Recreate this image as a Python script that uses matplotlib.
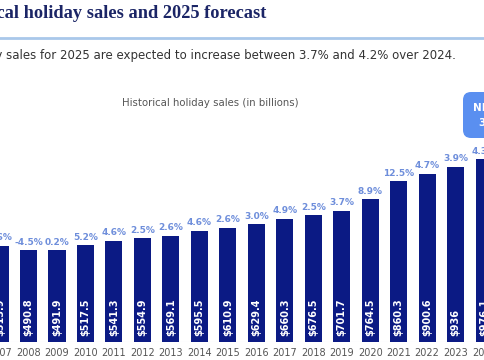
import matplotlib.pyplot as plt
from matplotlib.patches import FancyBboxPatch

# holiday sales, billions of dollars
years = [str(y) for y in range(2007, 2025)]
sales = [513.9, 490.8, 491.9, 517.5, 541.3, 554.9, 569.1, 595.5, 610.9,
         629.4, 660.3, 676.5, 701.7, 764.5, 860.3, 900.6, 936, 976.1]
sales_labels = ['$513.9', '$490.8', '$491.9', '$517.5', '$541.3', '$554.9', '$569.1',
                '$595.5', '$610.9', '$629.4', '$660.3', '$676.5', '$701.7', '$764.5',
                '$860.3', '$900.6', '$936', '$976.1']
growth = ['3.6%', '-4.5%', '0.2%', '5.2%', '4.6%', '2.5%', '2.6%', '4.6%', '2.6%',
          '3.0%', '4.9%', '2.5%', '3.7%', '8.9%', '12.5%', '4.7%', '3.9%', '4.3%']

title = 'Historical holiday sales and 2025 forecast'
subtitle = 'Holiday sales for 2025 are expected to increase between 3.7% and 4.2% over 2024.'
chart_label = 'Historical holiday sales (in billions)'

navy = '#0b1a84'
pct_blue = '#6e8edb'

fig = plt.figure(figsize=(4.85, 3.6), dpi=100)
fig.patch.set_facecolor('white')

# header
fig.text(266 / 485, 1 - 13 / 360, title, ha='right', va='center',
         family='Liberation Serif', weight='bold', fontsize=13.2, color='#1b2566')
fig.add_artist(plt.Line2D([0, 1], [1 - 38 / 360, 1 - 38 / 360], transform=fig.transFigure,
                          color='#a9c8ea', lw=2))
fig.text(456 / 485, 1 - 55 / 360, subtitle, ha='right', va='center',
         fontsize=8.5, color='#333333')

# bars
ax = fig.add_axes([0, 18 / 360, 1, (342 - 80) / 360])
x = list(range(len(years)))
ax.bar(x, sales, width=0.6, color=navy, zorder=2)
ax.set_xlim(0.249, 17.03)
ax.set_ylim(0, 262 / 0.187)
for s in ax.spines.values():
    s.set_visible(False)
ax.axhline(0, color='#dbe6f5', lw=0.8, zorder=1)
ax.set_yticks([])
ax.set_xticks(x)
ax.set_xticklabels(years, fontsize=7, color='#555555')
ax.tick_params(axis='x', length=0, pad=4)

for i in x:
    ax.annotate(sales_labels[i], (i, 0), xytext=(0, 4), textcoords='offset points',
                rotation=90, ha='center', va='bottom', color='white',
                fontsize=7, weight='bold')
    ax.annotate(growth[i], (i, sales[i]), xytext=(0, 2.5), textcoords='offset points',
                ha='center', va='bottom', color=pct_blue, fontsize=6.5, weight='bold')

fig.text(210 / 485, 1 - 103 / 360, chart_label, ha='center', va='center',
         fontsize=7.3, color='#555555')

# forecast callout (cut off at right edge)
box = FancyBboxPatch((4.63, 2.22), 0.77, 0.46, boxstyle='round,pad=0,rounding_size=0.08',
                     transform=fig.dpi_scale_trans, facecolor='#5a8ff0', edgecolor='none')
fig.add_artist(box)
fig.text(4.73, 2.52, 'NRF forecast', transform=fig.dpi_scale_trans, ha='left',
         va='center', color='white', fontsize=7.5, weight='bold')
fig.text(4.79, 2.37, '3.7% - 4.2%', transform=fig.dpi_scale_trans, ha='left',
         va='center', color='white', fontsize=7.5, weight='bold')

fig.savefig('out.png', dpi=100)
